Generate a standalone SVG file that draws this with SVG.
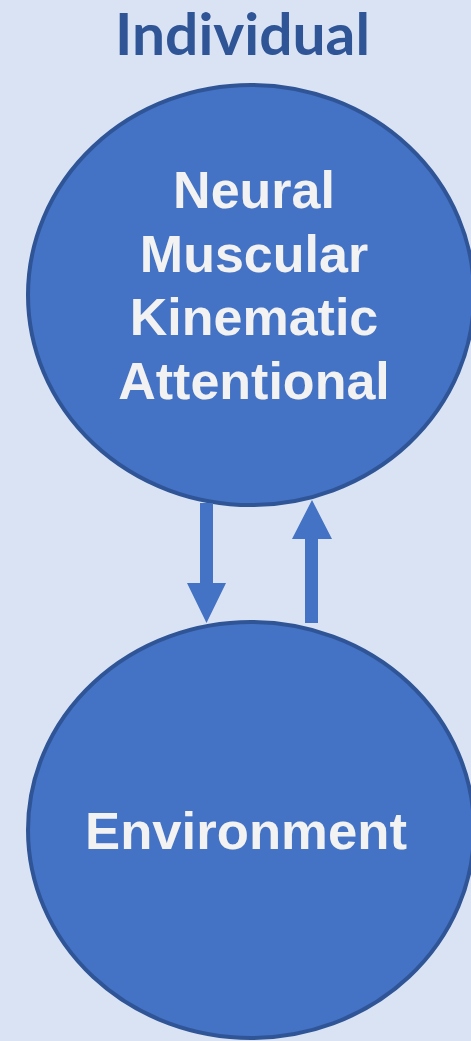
<svg xmlns="http://www.w3.org/2000/svg" width="471" height="1041" viewBox="0 0 471 1041">
<style>
.bg{fill:#DAE3F3}
.node{fill:#4472C4;stroke:#2F5597;stroke-width:4}
.lbl{font-family:"Liberation Sans",Arial,sans-serif;font-weight:bold;font-size:52px;fill:#F2F2F2;text-anchor:middle}
.title{font-family:Lato,"Open Sans",sans-serif;font-weight:bold;font-size:58px;fill:#2F5597;text-anchor:middle}
.arrow{fill:#4472C4}
</style>
<rect class="bg" x="0" y="0" width="471" height="1041"/>
<text class="title" x="242.5" y="55" textLength="255" lengthAdjust="spacingAndGlyphs">Individual</text>
<g id="individual">
<ellipse class="node" cx="251" cy="295" rx="223" ry="210"/>
<text class="lbl" x="254" y="208">Neural</text>
<text class="lbl" x="254" y="272">Muscular</text>
<text class="lbl" x="254" y="335">Kinematic</text>
<text class="lbl" x="254" y="399">Attentional</text>
</g>
<g id="environment">
<ellipse class="node" cx="251" cy="830" rx="223" ry="208"/>
<text class="lbl" x="246" y="849" textLength="322" lengthAdjust="spacingAndGlyphs">Environment</text>
</g>
<g id="connectors">
<polygon class="arrow" points="200,503 213,503 213,583 226,583 206.5,623 187,583 200,583"/>
<polygon class="arrow" points="305,623 318,623 318,539 332,539 312,500 292,539 305,539"/>
</g>
</svg>
